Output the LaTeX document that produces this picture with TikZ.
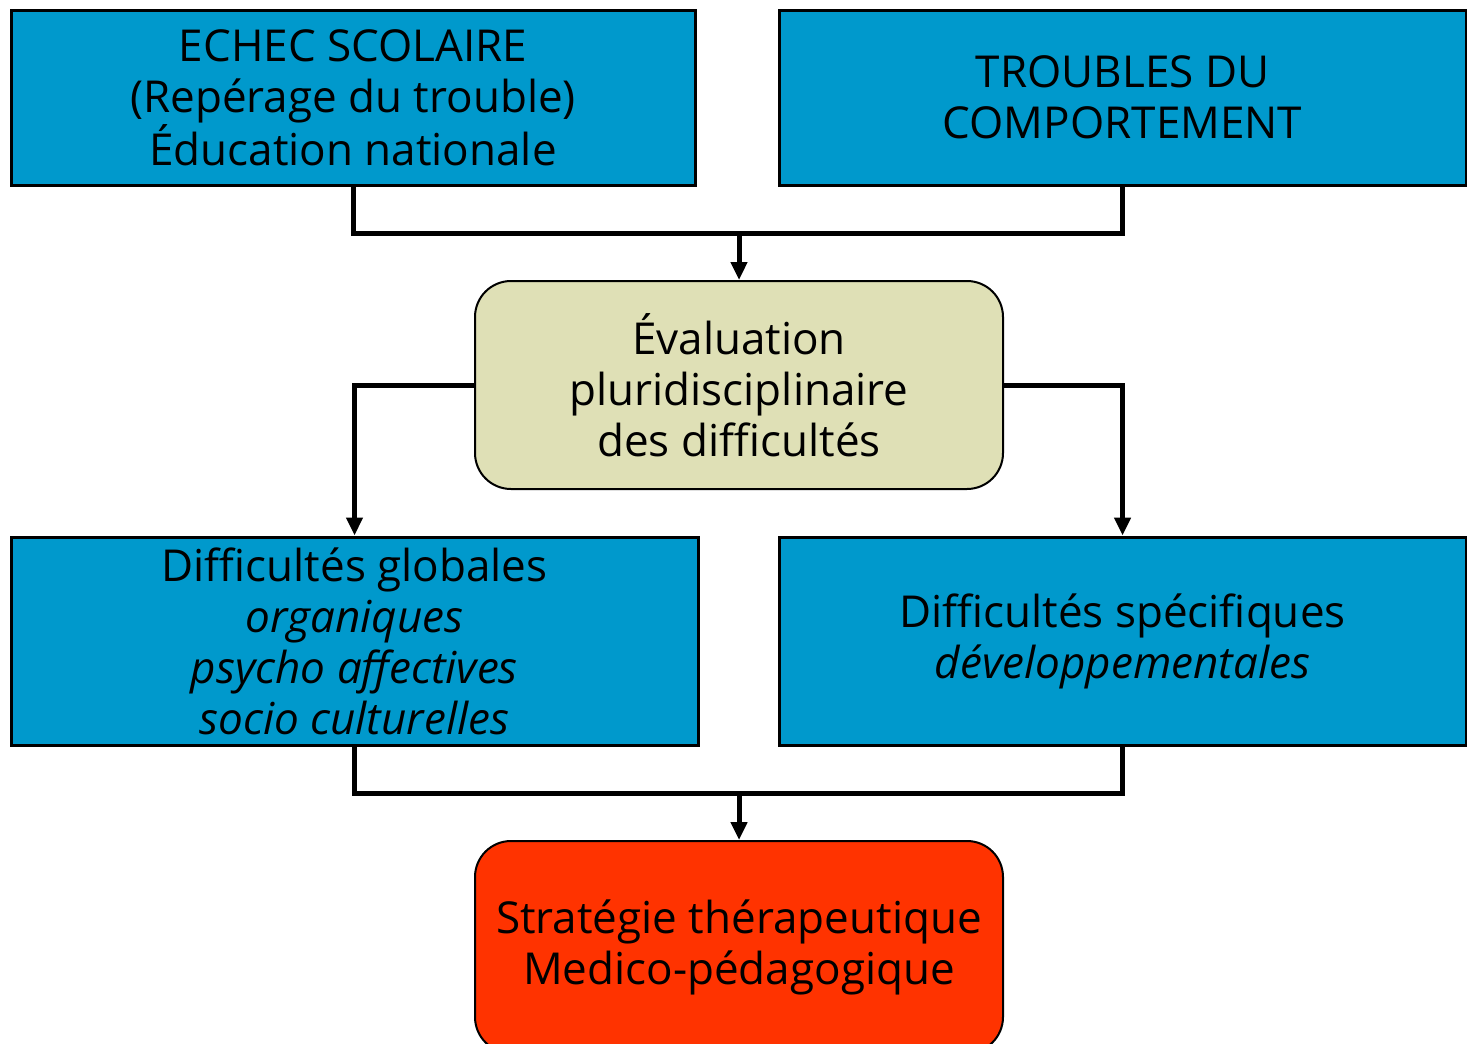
\documentclass[tikz,border=0pt]{standalone}
\usepackage{fontspec}
\setmainfont{Open Sans}
\usetikzlibrary{arrows.meta}
\definecolor{boxblue}{HTML}{0099CC}
\definecolor{evalfill}{HTML}{DFE0B6}
\definecolor{stratred}{HTML}{FF3300}
\begin{document}
\begin{tikzpicture}[x=1pt,y=-1pt,
  txt/.style={align=center,font=\fontsize{44}{51}\selectfont,text=black},
  bluebox/.style={txt,draw=black,line width=3pt,fill=boxblue,inner sep=0pt},
  roundbox/.style={txt,draw=black,line width=2pt,rounded corners=36pt,inner sep=0pt},
  link/.style={draw=black,line width=5pt},
  arr/.style={link,-{Triangle[length=18pt,width=16pt]}}]
\clip (0,0) rectangle (1467,1044);
\fill[white] (0,0) rectangle (1467,1044);

% top row
\node[bluebox,minimum width=684pt,minimum height=175pt] (echec) at (353,97.5)
  {ECHEC SCOLAIRE\\(Repérage du trouble)\\Éducation nationale};
\node[bluebox,minimum width=687pt,minimum height=175pt] (troubles) at (1122.5,97.5)
  {TROUBLES DU\\COMPORTEMENT};

% evaluation
\node[roundbox,fill=evalfill,minimum width=528pt,minimum height=208pt] (eval) at (739,385)
  {Évaluation\\pluridisciplinaire\\des difficultés};

% difficulties row
\node[bluebox,minimum width=687pt,minimum height=208pt] (glob) at (354.5,641)
  {Difficultés globales\\\textit{organiques}\\\textit{psycho affectives}\\\textit{socio culturelles}};
\node[bluebox,minimum width=687pt,minimum height=208pt] (spec) at (1122.5,641)
  {Difficultés spécifiques\\\textit{développementales}};

% strategy
\node[roundbox,fill=stratred,minimum width=528pt,minimum height=212pt] (strat) at (739,947)
  {Stratégie thérapeutique\\Medico-pédagogique};

% connectors
\coordinate (jtop) at (739,233);
\coordinate (jbot) at (739,793);
\draw[link] (echec.south) |- (jtop) -| (troubles.south);
\draw[arr] (jtop) -- (eval.north);
\draw[arr] (eval.west) -| (glob.north);
\draw[arr] (eval.east) -| (spec.north);
\draw[link] (glob.south) |- (jbot) -| (spec.south);
\draw[arr] (jbot) -- (strat.north);
\end{tikzpicture}
\end{document}
